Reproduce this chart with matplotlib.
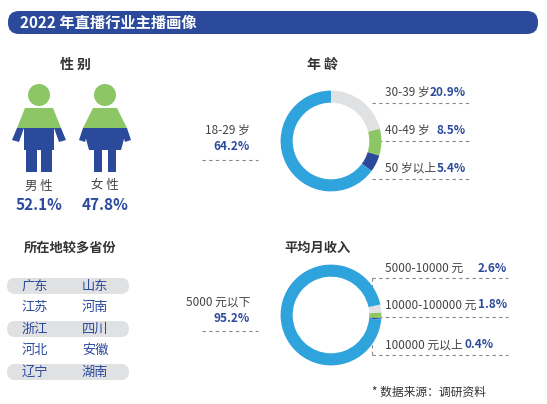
import matplotlib
matplotlib.use("Agg")
import matplotlib.pyplot as plt
from matplotlib.patches import FancyBboxPatch, Circle, Polygon, Rectangle

plt.rcParams["font.family"] = ["Noto Sans CJK SC", "DejaVu Sans"]

W, H = 547, 404
BLUE = "#2fa3dc"
DARK = "#2b4a9c"
GREEN = "#8dc665"
GRAY = "#e0e1e3"
TXT = "#444444"

TITLE = "2022 年直播行业主播画像"
GENDER_LABELS = ["男 性", "女 性"]
GENDER_VALUES = [52.1, 47.8]

AGE_LABELS = ["30-39 岁", "40-49 岁", "50 岁以上", "18-29 岁"]
AGE_VALUES = [20.9, 8.5, 5.4, 64.2]

INCOME_LABELS = ["5000-10000 元", "10000-100000 元", "100000 元以上", "5000 元以下"]
INCOME_VALUES = [2.6, 1.8, 0.4, 95.2]

PROVINCES = [("广东", "山东"), ("江苏", "河南"), ("浙江", "四川"), ("河北", "安徽"), ("辽宁", "湖南")]

fig = plt.figure(figsize=(W / 100, H / 100), dpi=100)
ax = fig.add_axes([0, 0, 1, 1])
ax.set_xlim(0, W)
ax.set_ylim(H, 0)
ax.axis("off")

# header bar
ax.add_patch(FancyBboxPatch((8, 11), 530, 23, boxstyle="round,pad=0,rounding_size=11",
                            fc=DARK, ec="none"))
ax.text(20, 23, TITLE, color="white", fontsize=11, fontweight="bold", va="center")

# section titles
ax.text(75, 65, "性 别", fontsize=10, fontweight="bold", color="#333", ha="center", va="center")
ax.text(322, 65, "年 龄", fontsize=10, fontweight="bold", color="#333", ha="center", va="center")
ax.text(70, 248, "所在地较多省份", fontsize=9.5, fontweight="bold", color="#333", ha="center", va="center")
ax.text(318, 248, "平均月收入", fontsize=9.5, fontweight="bold", color="#333", ha="center", va="center")


def person(cx, female):
    ax.add_patch(Circle((cx, 95), 11, fc=GREEN, ec="none"))
    if female:
        ax.add_patch(Polygon([(cx - 12, 108), (cx + 12, 108), (cx + 22, 128), (cx - 22, 128)], fc=GREEN, ec="none"))
        ax.add_patch(Polygon([(cx - 22, 128), (cx + 22, 128), (cx + 16, 150), (cx - 16, 150)], fc=DARK, ec="none"))
        ax.add_patch(Polygon([(cx - 22, 128), (cx - 16, 128), (cx - 20, 142), (cx - 26, 140)], fc=DARK, ec="none"))
        ax.add_patch(Polygon([(cx + 22, 128), (cx + 16, 128), (cx + 20, 142), (cx + 26, 140)], fc=DARK, ec="none"))
        ax.add_patch(Rectangle((cx - 11, 150), 8, 22, fc=DARK, ec="none"))
        ax.add_patch(Rectangle((cx + 3, 150), 8, 22, fc=DARK, ec="none"))
    else:
        ax.add_patch(Polygon([(cx - 14, 108), (cx + 14, 108), (cx + 22, 128), (cx - 22, 128)], fc=GREEN, ec="none"))
        ax.add_patch(Rectangle((cx - 15, 128), 30, 22, fc=DARK, ec="none"))
        ax.add_patch(Polygon([(cx - 22, 128), (cx - 15, 128), (cx - 20, 142), (cx - 27, 140)], fc=DARK, ec="none"))
        ax.add_patch(Polygon([(cx + 22, 128), (cx + 15, 128), (cx + 20, 142), (cx + 27, 140)], fc=DARK, ec="none"))
        ax.add_patch(Rectangle((cx - 13, 150), 11, 22, fc=DARK, ec="none"))
        ax.add_patch(Rectangle((cx + 2, 150), 11, 22, fc=DARK, ec="none"))


for cx, lab, val, fem in zip([39, 105], GENDER_LABELS, GENDER_VALUES, [False, True]):
    person(cx, fem)
    ax.text(cx, 186, lab, fontsize=9, color=TXT, ha="center", va="center")
    ax.text(cx, 205, f"{val}%", fontsize=11, fontweight="bold", color=DARK, ha="center", va="center")

# provinces
for i, (a, b) in enumerate(PROVINCES):
    y = 286 + i * 21.5
    if i % 2 == 0:
        ax.add_patch(FancyBboxPatch((7, y - 8), 122, 16, boxstyle="round,pad=0,rounding_size=8",
                                    fc=GRAY, ec="none"))
    ax.text(35, y, a, fontsize=9.5, color=DARK, ha="center", va="center")
    ax.text(95, y, b, fontsize=9.5, color=DARK, ha="center", va="center")


def donut(cx, cy, values, colors, start):
    r = 63
    dax = fig.add_axes([(cx - r) / W, 1 - (cy + r) / H, 2 * r / W, 2 * r / H])
    dax.pie(values, colors=colors, startangle=start, counterclock=False,
            wedgeprops=dict(width=0.24, edgecolor="none"))
    dax.set_aspect("equal")
    dax.axis("off")


def dash(x0, x1, y):
    ax.plot([x0, x1], [y, y], ls=(0, (3, 3)), color="#888", lw=0.8)


donut(331, 141, AGE_VALUES, [GRAY, GREEN, DARK, BLUE], 90)
donut(331, 315, INCOME_VALUES, [GRAY, GREEN, DARK, BLUE], 12)

# age labels
for lab, val, y in zip(AGE_LABELS[:3], AGE_VALUES[:3], [92, 130, 168]):
    ax.text(385, y, lab, fontsize=8.5, color=TXT, va="center")
    ax.text(466, y, f"{val}%", fontsize=8.5, fontweight="bold", color=DARK, va="center", ha="right")
    dash(372, 470, y + 11)
ax.text(250, 130, AGE_LABELS[3], fontsize=8.5, color=TXT, ha="right", va="center")
ax.text(250, 147, f"{AGE_VALUES[3]}%", fontsize=8.5, fontweight="bold", color=DARK, ha="right", va="center")
dash(202, 258, 160)

# income labels
for lab, val, y, xr in zip(INCOME_LABELS[:3], INCOME_VALUES[:3], [268, 305, 345], [507, 507, 494]):
    ax.text(385, y, lab, fontsize=8.5, color=TXT, va="center")
    ax.text(xr, y, f"{val}%", fontsize=8.5, fontweight="bold", color=DARK, va="center", ha="right")
dash(372, 508, 278)
dash(372, 508, 317)
dash(372, 508, 355)
ax.plot([372, 372], [278, 355], ls=(0, (3, 3)), color="#888", lw=0.8)
ax.text(250, 302, INCOME_LABELS[3], fontsize=8.5, color=TXT, ha="right", va="center")
ax.text(250, 318, f"{INCOME_VALUES[3]}%", fontsize=8.5, fontweight="bold", color=DARK, ha="right", va="center")
dash(202, 258, 331)

ax.text(372, 392, "* 数据来源：调研资料", fontsize=8.5, color="#333", va="center")

fig.savefig("out.png", dpi=100)
